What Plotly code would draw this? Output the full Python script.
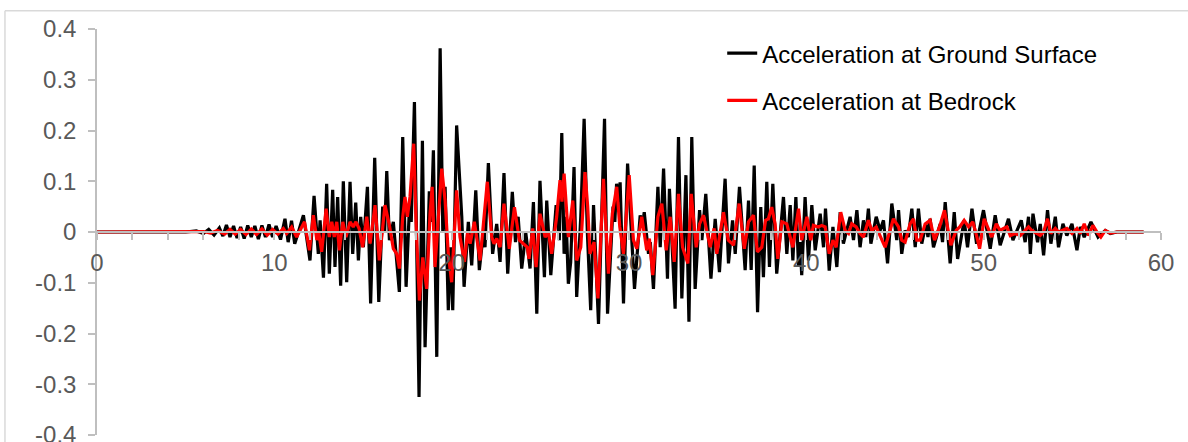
import plotly.graph_objects as go

# Time (s) and acceleration (g) at the visible peaks/troughs
t_ground = [0, 5.0, 5.6, 6.0, 6.3, 6.6, 6.9, 7.1, 7.3, 7.5, 7.7, 7.9, 8.1, 8.3, 8.5, 8.7, 8.9, 9.1, 9.3, 9.5,
            9.7, 9.9, 10.1, 10.35, 10.6, 10.78, 10.97, 11.15, 11.4, 11.64, 12.01, 12.24, 12.48, 12.58, 12.77,
            12.95, 13.1, 13.29, 13.42, 13.57, 13.74, 13.89, 14.08, 14.27, 14.42, 14.59, 14.74, 14.87, 15.02,
            15.25, 15.43, 15.66, 15.89, 16.11, 16.22, 16.34, 16.49, 16.71, 17.05, 17.24, 17.43, 17.62, 17.72,
            17.9, 18.16, 18.35, 18.5, 18.74, 18.85, 18.97, 19.16, 19.35, 19.5, 19.63, 19.81, 19.95, 20.06,
            20.28, 20.57, 20.7, 20.94, 21.13, 21.36, 21.56, 21.79, 21.88, 22.07, 22.31, 22.54, 22.73, 22.95,
            23.16, 23.42, 23.6, 23.75, 23.95, 24.18, 24.42, 24.61, 24.8, 24.98, 25.23, 25.36, 25.59, 25.89,
            26.07, 26.21, 26.34, 26.45, 26.58, 26.71, 26.9, 27.05, 27.28, 27.47, 27.65, 27.84, 28.0, 28.28,
            28.62, 28.79, 29.1, 29.2, 29.3, 29.42, 29.5, 29.69, 29.92, 30.31, 30.63, 30.75, 30.86, 31.1, 31.2,
            31.38, 31.63, 31.76, 31.95, 32.17, 32.28, 32.6, 32.79, 32.98, 33.21, 33.38, 33.54, 33.73, 33.98,
            34.11, 34.33, 34.62, 34.86, 35.1, 35.42, 35.61, 35.84, 35.99, 36.23, 36.55, 36.74, 36.89, 37.06,
            37.25, 37.43, 37.58, 37.77, 37.92, 38.11, 38.33, 38.52, 38.71, 38.9, 39.09, 39.24, 39.41, 39.56,
            39.65, 39.74, 39.93, 40.12, 40.31, 40.5, 40.78, 40.97, 41.08, 41.29, 41.5, 41.72, 41.91, 42.09,
            42.47, 42.66, 42.85, 43.03, 43.22, 43.35, 43.5, 43.64, 43.94, 44.16, 44.35, 44.58, 44.82, 45.1,
            45.2, 45.38, 45.57, 45.75, 45.95, 46.14, 46.32, 46.51, 46.74, 46.86, 46.98, 47.17, 47.55, 47.68,
            47.83, 48.11, 48.34, 48.53, 48.9, 49.09, 49.34, 49.6, 49.99, 50.37, 50.65, 50.93, 51.4, 51.65,
            52.12, 52.34, 52.53, 52.63, 52.78, 53.04, 53.19, 53.38, 53.6, 53.79, 54.04, 54.22, 54.47, 54.69,
            54.98, 55.26, 55.45, 55.67, 56.05, 56.45, 56.86, 57.14, 57.51, 59.02]
a_ground = [0, 0, 0.002, -0.003, 0.005, -0.006, 0.008, -0.008, 0.014, -0.01, 0.012, -0.012, 0.01, -0.013, 0.013,
            -0.01, 0.012, -0.014, 0.013, -0.01, 0.015, -0.01, 0.012, -0.015, 0.026, -0.02, 0.022, -0.023, 0.005,
            0.033, -0.056, 0.071, -0.043, 0.023, -0.09, 0.095, -0.082, 0.083, -0.069, 0.069, -0.106, 0.1,
            -0.099, 0.099, -0.043, 0.058, -0.056, 0.03, -0.03, 0.089, -0.141, 0.146, -0.138, 0.05, 0.0, 0.12,
            -0.016, 0.02, -0.118, 0.187, -0.108, 0.05, 0.02, 0.256, -0.325, 0.18, -0.227, 0.08, 0.02, 0.161,
            -0.246, 0.362, 0.0, 0.089, -0.154, -0.03, -0.154, 0.21, 0.03, -0.108, 0.02, -0.066, 0.082, -0.075,
            0.0, -0.03, 0.136, -0.043, 0.016, -0.059, 0.116, -0.082, 0.079, -0.02, 0.03, -0.072, -0.002,
            -0.072, 0.059, -0.161, 0.101, -0.089, 0.062, -0.085, 0.053, -0.016, 0.195, -0.043, 0.03, -0.102,
            -0.06, 0.128, -0.128, 0.03, 0.223, 0.0, -0.154, 0.053, -0.181, 0.223, -0.161, 0.05, 0.02, 0.095,
            0.06, 0.098, -0.141, 0.135, -0.112, 0.033, 0.01, 0.039, -0.043, -0.02, -0.112, 0.089, -0.03, 0.125,
            -0.092, 0.085, -0.151, 0.187, -0.131, 0.112, -0.177, 0.187, -0.112, 0.043, -0.016, 0.075, -0.092,
            0.026, -0.079, 0.105, -0.062, 0.023, -0.043, 0.089, -0.075, 0.062, -0.075, 0.131, -0.158, 0.049,
            -0.089, 0.099, -0.069, 0.095, -0.082, -0.01, 0.069, -0.043, 0.053, -0.056, 0.069, -0.069, -0.02,
            -0.085, 0.069, -0.056, 0.053, -0.036, 0.036, -0.03, 0.046, -0.076, 0.01, -0.069, 0.039, -0.023,
            0.03, -0.016, 0.043, -0.03, 0.023, -0.01, 0.046, -0.023, 0.03, 0.003, 0.023, -0.062, 0.056, -0.016,
            0.043, -0.043, 0.003, -0.01, 0.046, -0.03, 0.046, -0.023, 0.016, -0.01, 0.026, -0.03, 0.016, -0.02,
            0.059, -0.062, 0.039, -0.053, 0.023, -0.03, 0.046, -0.023, 0.043, -0.033, 0.033, -0.026, 0.026,
            -0.016, 0.023, -0.02, 0.03, -0.043, 0.036, -0.02, 0.016, -0.046, 0.043, -0.023, 0.03, -0.03, 0.016,
            -0.007, 0.016, -0.036, 0.01, -0.01, 0.02, -0.01, 0.003, -0.003, 0, 0]

t_bedrock = [0, 5.5, 6.0, 6.4, 6.8, 7.2, 7.5, 7.8, 8.1, 8.4, 8.7, 9.0, 9.3, 9.6, 9.9, 10.2, 10.51, 10.7, 10.98,
             11.26, 11.54, 11.7, 11.98, 12.2, 12.4, 12.5, 12.67, 12.92, 13.1, 13.24, 13.38, 13.52, 13.67, 13.86,
             14.04, 14.27, 14.45, 14.6, 14.78, 14.98, 15.21, 15.4, 15.68, 15.92, 16.24, 16.49, 16.71, 16.9,
             17.05, 17.24, 17.37, 17.5, 17.65, 17.86, 18.0, 18.18, 18.37, 18.59, 18.78, 18.9, 19.06, 19.44,
             19.63, 19.81, 20.0, 20.28, 20.47, 20.72, 20.9, 21.04, 21.28, 21.6, 22.01, 22.26, 22.39, 22.54,
             22.73, 22.95, 23.25, 23.54, 23.82, 24.05, 24.27, 24.36, 24.57, 24.76, 24.98, 25.27, 25.45, 25.64,
             25.92, 26.11, 26.22, 26.34, 26.58, 26.83, 27.05, 27.28, 27.52, 27.67, 27.8, 28.03, 28.25, 28.56,
             28.84, 29.06, 29.31, 29.48, 29.69, 30.01, 30.25, 30.44, 30.72, 31.0, 31.15, 31.34, 31.63, 31.85,
             32.1, 32.32, 32.55, 32.79, 33.02, 33.32, 33.51, 33.79, 33.98, 34.2, 34.39, 34.58, 34.8, 34.95,
             35.33, 35.6, 35.9, 36.21, 36.5, 36.74, 37.02, 37.24, 37.49, 37.7, 37.86, 38.05, 38.24, 38.39,
             38.62, 38.9, 39.09, 39.24, 39.56, 39.74, 40.03, 40.25, 40.4, 40.68, 40.87, 41.06, 41.29, 41.5,
             41.68, 41.94, 42.19, 42.38, 42.56, 42.81, 43.03, 43.22, 43.5, 43.69, 43.94, 44.16, 44.44, 44.72,
             44.91, 45.2, 45.38, 45.57, 45.85, 46.04, 46.23, 46.42, 46.7, 46.98, 47.23, 47.51, 47.79, 48.15,
             48.45, 48.65, 48.9, 49.15, 49.39, 49.62, 49.77, 50.03, 50.28, 50.46, 50.71, 50.93, 51.12, 51.31,
             51.5, 51.78, 52.06, 52.34, 52.53, 52.72, 53.0, 53.19, 53.38, 53.6, 53.79, 54.04, 54.22, 54.47,
             54.69, 54.98, 55.26, 55.45, 55.67, 55.92, 56.16, 56.39, 56.61, 56.86, 57.14, 57.51, 59.02]
a_bedrock = [0, 0, 0.001, -0.002, 0.003, -0.004, 0.005, -0.004, 0.005, -0.005, 0.006, -0.005, 0.006, -0.006,
             0.005, -0.004, 0.007, -0.003, 0.01, -0.01, 0.01, 0.02, -0.036, 0.033, -0.016, 0.0, -0.039, 0.046,
             -0.01, 0.02, -0.01, 0.02, -0.036, 0.02, -0.01, 0.02, 0.01, 0.02, 0.007, -0.03, 0.03, -0.023, 0.053,
             -0.056, 0.053, 0.013, -0.033, -0.043, -0.072, 0.03, 0.069, 0.03, 0.069, 0.174, 0.01, -0.135, -0.05,
             -0.112, 0.036, 0.089, -0.069, 0.125, 0.062, -0.043, -0.099, 0.082, -0.01, -0.059, 0.0, -0.023, 0.02,
             -0.056, 0.099, -0.01, -0.023, -0.013, -0.03, 0.056, -0.033, 0.049, -0.016, -0.023, -0.03, -0.053,
             0.007, -0.069, 0.036, -0.01, 0.0, -0.043, 0.03, 0.102, 0.06, 0.115, -0.01, 0.062, -0.056, -0.03,
             0.118, 0.05, -0.043, -0.02, -0.131, 0.105, -0.082, 0.036, 0.089, 0.01, -0.043, 0.112, -0.016,
             -0.033, 0.03, -0.036, -0.013, -0.085, 0.03, 0.056, -0.036, 0.03, -0.059, 0.075, -0.03, -0.062,
             0.075, -0.03, 0.016, 0.033, 0.0, -0.03, 0.007, -0.043, 0.039, -0.016, -0.026, 0.056, -0.033, 0.02,
             0.033, -0.039, -0.03, 0.023, 0.026, 0.049, 0.016, -0.053, 0.02, 0.016, -0.01, -0.03, 0.046, -0.016,
             0.03, -0.016, 0.013, 0.01, 0.013, 0.01, -0.043, -0.016, -0.03, 0.039, 0.003, -0.003, 0.016, 0.01,
             -0.003, -0.01, 0.023, 0.003, 0.01, -0.007, -0.03, 0.003, 0.026, 0.01, -0.016, -0.02, 0.016, 0.026,
             -0.016, -0.016, 0.016, 0.023, -0.016, 0.01, 0.043, -0.026, 0.003, 0.01, 0.023, 0.01, 0.02, -0.01,
             -0.033, 0.026, 0.003, -0.01, 0.016, 0.003, 0.007, 0.01, -0.007, -0.003, -0.007, 0.003, 0.01, 0.003,
             -0.003, -0.007, 0.0, 0.026, -0.003, 0.007, 0.0, 0.003, 0.007, -0.003, 0.007, -0.003, 0.016, -0.007,
             0.013, 0.0, -0.01, 0.003, -0.002, 0, 0]

x_tickvals = list(range(0, 61, 2))
x_ticktext = [str(v) if v % 10 == 0 else "" for v in x_tickvals]
y_tickvals = [0.4, 0.3, 0.2, 0.1, 0, -0.1, -0.2, -0.3, -0.4]
y_ticktext = ["0.4", "0.3", "0.2", "0.1", "0", "-0.1", "-0.2", "-0.3", "-0.4"]

FONT = "Arial, Liberation Sans, sans-serif"
AXIS_GRAY = "#bfbfbf"
LABEL_GRAY = "#595959"
FS = 24

fig = go.Figure()
fig.add_trace(go.Scatter(x=t_ground, y=a_ground, mode="lines", name="Acceleration at Ground Surface",
                         line=dict(color="#000000", width=3.2), legendgroup="g1"))
fig.add_trace(go.Scatter(x=t_bedrock, y=a_bedrock, mode="lines", name="Acceleration at Bedrock",
                         line=dict(color="#ff0000", width=3.2), legendgroup="g2"))

fig.update_layout(
    width=1188, height=442,
    margin=dict(l=97, r=27, t=29, b=7, pad=0, autoexpand=False),
    paper_bgcolor="white", plot_bgcolor="white",
    font=dict(family=FONT, size=FS, color=LABEL_GRAY),
    showlegend=True,
    legend=dict(x=0.5876, y=0.995, xanchor="left", yanchor="top", bgcolor="rgba(0,0,0,0)",
                font=dict(family=FONT, size=FS, color="#000000"),
                traceorder="grouped", tracegroupgap=13, itemwidth=30),
    xaxis=dict(range=[0, 60], anchor="free", position=0.5, showgrid=False, zeroline=False,
               automargin=False,
               showline=True, linecolor=AXIS_GRAY, linewidth=1.5,
               tickmode="array", tickvals=x_tickvals, ticktext=x_ticktext,
               ticks="outside", ticklen=7, tickwidth=1.5, tickcolor=AXIS_GRAY,
               tickfont=dict(family=FONT, size=FS, color=LABEL_GRAY), ticklabelstandoff=2,
               ticklabeloverflow="allow"),
    xaxis2=dict(range=[0, 60], overlaying="x", anchor="free", position=0.5, showgrid=False, zeroline=False,
                automargin=False,
                showline=False, tickmode="array", tickvals=x_tickvals, showticklabels=False,
                ticks="inside", ticklen=7, tickwidth=1.5, tickcolor=AXIS_GRAY),
    yaxis=dict(range=[-0.4, 0.4], showgrid=False, zeroline=False,
               automargin=False,
               showline=True, linecolor=AXIS_GRAY, linewidth=1.5,
               tickmode="array", tickvals=y_tickvals, ticktext=y_ticktext,
               ticks="outside", ticklen=7, tickwidth=1.5, tickcolor=AXIS_GRAY,
               tickfont=dict(family=FONT, size=FS, color=LABEL_GRAY), ticklabelstandoff=7,
               ticklabeloverflow="allow"),
    yaxis2=dict(range=[-0.4, 0.4], overlaying="y", anchor="x", showgrid=False, zeroline=False,
                automargin=False,
                showline=False, tickmode="array", tickvals=y_tickvals, showticklabels=False,
                ticks="inside", ticklen=7, tickwidth=1.5, tickcolor=AXIS_GRAY),
    shapes=[
        dict(type="line", xref="paper", yref="paper", x0=-0.0865, x1=1.1, y0=1.045, y1=1.045,
             line=dict(color="#d9d9d9", width=1.5), layer="below"),
        dict(type="line", xref="paper", yref="paper", x0=-0.0865, x1=-0.0865, y0=1.045, y1=-0.2,
             line=dict(color="#d9d9d9", width=1.5), layer="below"),
    ],
)

fig.write_html("out.html", config={"displayModeBar": False},
               post_script="document.body.style.margin='0';document.body.style.padding='0';")
